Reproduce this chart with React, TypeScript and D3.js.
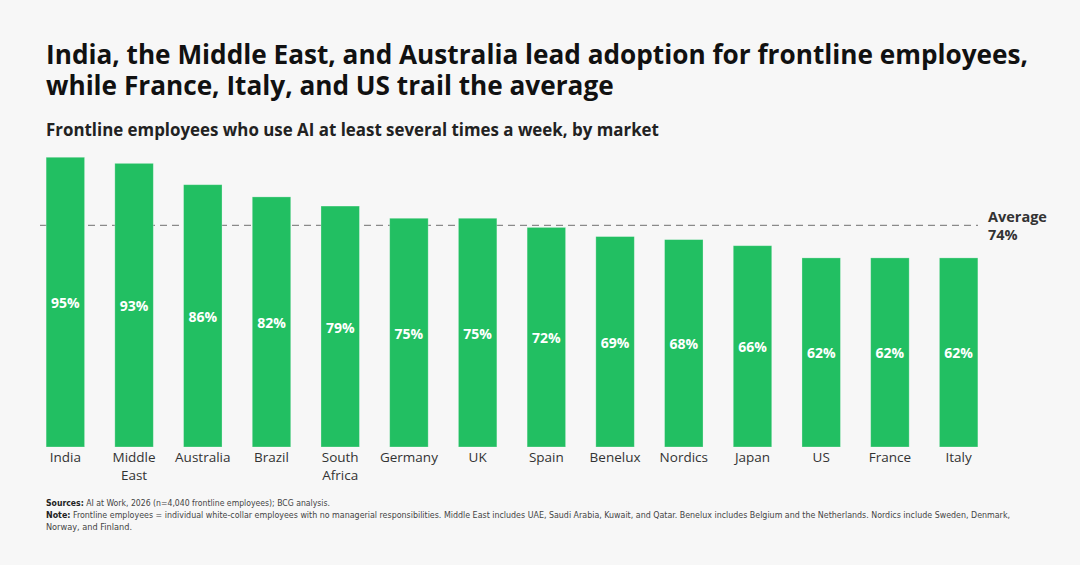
import { scaleBand, scaleLinear } from "d3";

const markets = ["India", "Middle East", "Australia", "Brazil", "South Africa", "Germany", "UK", "Spain", "Benelux", "Nordics", "Japan", "US", "France", "Italy"];
const shares = [95, 93, 86, 82, 79, 75, 75, 72, 69, 68, 66, 62, 62, 62];
const averageShare = 74;
const titleLines = [
  "India, the Middle East, and Australia lead adoption for frontline employees,",
  "while France, Italy, and US trail the average",
];
const subtitle = "Frontline employees who use AI at least several times a week, by market";
const noteLines = [
  { head: "Sources:", body: " AI at Work, 2026 (n=4,040 frontline employees); BCG analysis.", width: 284 },
  {
    head: "Note:",
    body: " Frontline employees = individual white-collar employees with no managerial responsibilities. Middle East includes UAE, Saudi Arabia, Kuwait, and Qatar. Benelux includes Belgium and the Netherlands. Nordics include Sweden, Denmark,",
    width: 964,
  },
  { head: "", body: "Norway, and Finland.", width: 86 },
];

const WIDTH = 1080;
const HEIGHT = 565;
const BASE_Y = 447;
const GREEN = "#22BF62";
const FONT = "'Open Sans', 'Noto Sans', sans-serif";

export default function App() {
  const x = scaleBand<string>()
    .domain(markets)
    .range([31, 993])
    .paddingInner(0.44)
    .paddingOuter(0.22);
  const y = scaleLinear().domain([0, 100]).range([BASE_Y, 142]);
  const avgY = y(averageShare) + 4;

  return (
    <div style={{ position: "fixed", left: 0, top: 0, width: WIDTH, height: HEIGHT }}>
      <svg width={WIDTH} height={HEIGHT} style={{ display: "block" }}>
        <rect x={0} y={0} width={WIDTH} height={HEIGHT} fill="#F7F7F7" />
        <g fontFamily={FONT} fontWeight={700} fill="#111">
          {titleLines.map((t, i) => (
            <text key={t} x={46} y={64 + i * 31} fontSize={26.2}>
              {t}
            </text>
          ))}
          <text x={46} y={136} fontSize={16.9} fill="#222">
            {subtitle}
          </text>
        </g>

        <line x1={40} x2={978} y1={avgY} y2={avgY} stroke="#8a8a8a" strokeWidth={1.2} strokeDasharray="7 5" />

        {markets.map((m, i) => {
          const bx = x(m) ?? 0;
          const top = y(shares[i]);
          const words = m.split(" ");
          return (
            <g key={m}>
              <rect
                x={bx}
                y={top}
                width={x.bandwidth()}
                height={BASE_Y - top}
                fill={GREEN}
                stroke="rgba(255,255,255,0.35)"
                strokeWidth={0.8}
              />
              <text
                x={bx + x.bandwidth() / 2}
                y={(top + BASE_Y) / 2 + 6}
                textAnchor="middle"
                fontFamily={FONT}
                fontWeight={700}
                fontSize={14}
                fill="#fff"
              >
                {shares[i]}%
              </text>
              {words.map((w, j) => (
                <text
                  key={w}
                  x={bx + x.bandwidth() / 2}
                  y={462 + j * 18}
                  textAnchor="middle"
                  fontFamily={FONT}
                  fontSize={13.5}
                  fill="#333"
                >
                  {w}
                </text>
              ))}
            </g>
          );
        })}

        <g fontFamily={FONT} fontWeight={700} fontSize={14.5} fill="#333">
          <text x={988} y={222}>Average</text>
          <text x={988} y={240}>{averageShare}%</text>
        </g>

        <g fontFamily="'DejaVu Sans Condensed', 'Liberation Sans Narrow', Roboto, sans-serif" fontSize={9} fill="#444">
          {noteLines.map((n, i) => (
            <text key={i} x={46} y={506 + i * 12} textLength={n.width} lengthAdjust="spacingAndGlyphs">
              {n.head && <tspan fontWeight={700} fill="#222">{n.head}</tspan>}
              <tspan>{n.body}</tspan>
            </text>
          ))}
        </g>
      </svg>
    </div>
  );
}
